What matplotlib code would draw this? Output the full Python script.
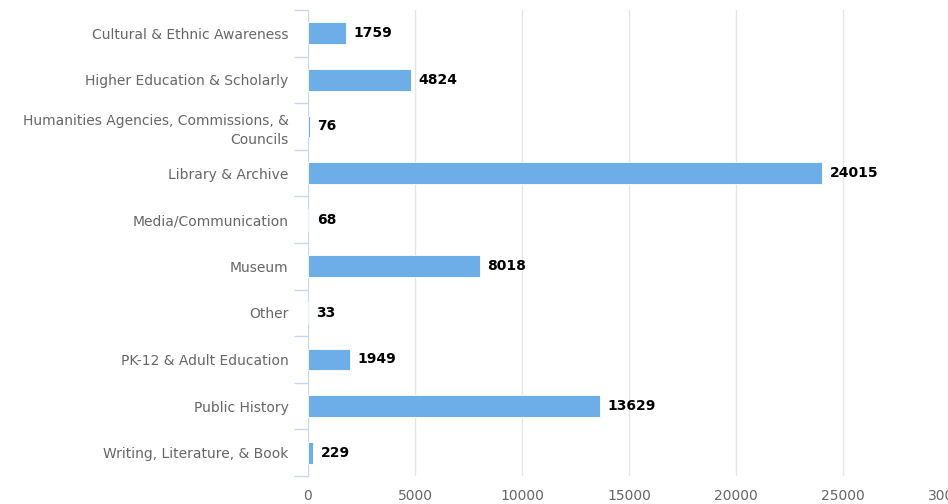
import numpy as np
import matplotlib.pyplot as plt

categories = ['Cultural & Ethnic Awareness', 'Higher Education & Scholarly',
              'Humanities Agencies, Commissions, &\nCouncils', 'Library & Archive',
              'Media/Communication', 'Museum', 'Other', 'PK-12 & Adult Education',
              'Public History', 'Writing, Literature, & Book']
values = [1759, 4824, 76, 24015, 68, 8018, 33, 1949, 13629, 229]
xticks = [0, 5000, 10000, 15000, 20000, 25000, 30000]

fig = plt.figure(figsize=(9.48, 5.04), dpi=100)
ax = fig.add_axes([308/948, 1-476/504, 642/948, 466/504])

y = np.arange(len(categories))
ax.barh(y, values, height=0.47, color='#6daee8', edgecolor='white', linewidth=0.6, zorder=3)
for yi, v in zip(y, values):
    ax.text(v + 350, yi, str(v), va='center', ha='left', fontsize=10,
            fontweight='bold', color='black', zorder=4)

ax.set_xlim(0, 30000)
ax.set_ylim(len(categories) - 0.5, -0.5)
ax.set_xticks(xticks)
ax.set_xticklabels([str(t) for t in xticks])
ax.set_yticks(y)
ax.set_yticklabels(categories, linespacing=1.5)
ax.set_yticks(np.arange(-0.5, len(categories)), minor=True)

ax.grid(axis='x', color='#e6e6e6', linewidth=1, zorder=0)
for s in ['top', 'right', 'bottom']:
    ax.spines[s].set_visible(False)
ax.spines['left'].set_color('#ccd6eb')

ax.tick_params(axis='x', length=0, labelsize=10, labelcolor='#666666', pad=9)
ax.tick_params(axis='y', which='major', length=0, labelsize=10, labelcolor='#666666', pad=14)
ax.tick_params(axis='y', which='minor', length=10, color='#ccd6eb', width=1)

fig.savefig('out.png', dpi=100)
